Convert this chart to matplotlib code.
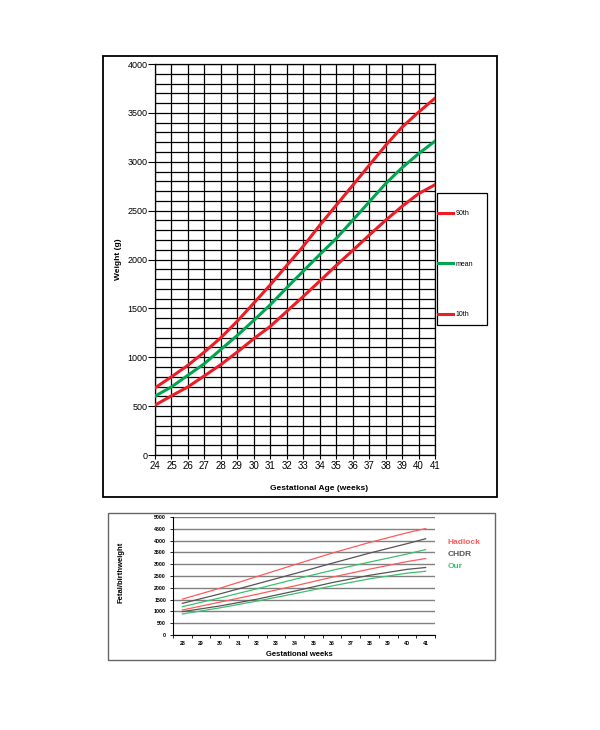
import matplotlib
matplotlib.use("Agg")
import matplotlib.pyplot as plt
from matplotlib.patches import Rectangle
from matplotlib.ticker import MultipleLocator, FixedLocator

plt.rcParams['font.family'] = ['Liberation Sans', 'DejaVu Sans']

# ================= DATA =================
# top chart: weight (g) by gestational age (weeks)
weeks = list(range(24, 42))
p90 = [687, 800, 918, 1054, 1200, 1370, 1554, 1741, 1939, 2135, 2350, 2554,
       2758, 2963, 3167, 3354, 3507, 3650]
mean = [602, 697, 816, 935, 1080, 1224, 1378, 1537, 1711, 1881, 2050, 2214,
        2401, 2588, 2776, 2939, 3082, 3211]
p10 = [510, 605, 697, 810, 925, 1054, 1190, 1316, 1469, 1622, 1779, 1939,
       2092, 2248, 2401, 2544, 2673, 2765]

# bottom chart: fetal/birthweight references
weeks2 = [28, 30, 32, 34, 36, 38, 40, 41]
hadlock_hi = [1520, 1980, 2480, 2980, 3470, 3920, 4330, 4510]
hadlock_lo = [1060, 1390, 1730, 2080, 2450, 2790, 3110, 3240]
chdr_hi = [1340, 1740, 2170, 2600, 3040, 3470, 3870, 4080]
chdr_lo = [990, 1230, 1520, 1860, 2220, 2530, 2780, 2860]
our_hi = [1200, 1570, 1960, 2360, 2740, 3090, 3430, 3620]
our_lo = [890, 1150, 1440, 1750, 2080, 2380, 2620, 2700]

RED = '#ee1c24'
GREEN = '#00a651'

W, H = 600, 730
fig = plt.figure(figsize=(6, 7.3), dpi=100)

def fx(px):
    return px / W

def fy(py):
    return 1 - py / H

# outer frames
fig.patches.append(Rectangle((fx(103), fy(497)), fx(394), 441 / H,
                             transform=fig.transFigure, fill=False,
                             edgecolor='black', linewidth=1.3))
fig.patches.append(Rectangle((fx(108), fy(660)), fx(387), 147 / H,
                             transform=fig.transFigure, fill=False,
                             edgecolor='#666666', linewidth=1.0))

# ================= TOP CHART =================
ax = fig.add_axes([fx(155), fy(455), fx(280), 391 / H])
ax.plot(weeks, p90, color=RED, lw=2.2, label='90th', zorder=3)
ax.plot(weeks, mean, color=GREEN, lw=2.2, label='mean', zorder=3)
ax.plot(weeks, p10, color=RED, lw=2.2, label='10th', zorder=3)
ax.set_xlim(24, 41)
ax.set_ylim(0, 4000)
ax.xaxis.set_major_locator(MultipleLocator(1))
ax.yaxis.set_major_locator(MultipleLocator(500))
ax.yaxis.set_minor_locator(MultipleLocator(100))
ax.grid(which='both', color='black', lw=0.9)
ax.set_axisbelow(True)
for s in ax.spines.values():
    s.set_linewidth(0.9)
ax.tick_params(axis='x', labelsize=7, length=3, width=0.8, pad=1.5)
ax.tick_params(axis='y', labelsize=6.5, length=5, width=0.8, pad=0.5)
ax.tick_params(axis='y', which='minor', length=0)
fig.text(fx(319), fy(488), 'Gestational Age (weeks)', ha='center', va='center',
         fontsize=6, fontweight='bold')
fig.text(fx(118), fy(259), 'Weight (g)', ha='center', va='center',
         rotation=90, fontsize=6, fontweight='bold')

# legend box
fig.patches.append(Rectangle((fx(437), fy(325)), fx(50), 132 / H,
                             transform=fig.transFigure, fill=False,
                             edgecolor='black', linewidth=0.9))
handles, labels = ax.get_legend_handles_labels()
fig.legend(handles, labels, loc='upper left',
           bbox_to_anchor=(fx(438), fy(210)), frameon=False, borderpad=0,
           borderaxespad=0, fontsize=5, handlelength=2.2, handletextpad=0.3,
           labelspacing=6.3)

# ================= BOTTOM CHART =================
ax2 = fig.add_axes([fx(173), fy(635), fx(262), 118 / H])
ax2.plot(weeks2, hadlock_hi, color='#ff5a5a', lw=0.9, label='Hadlock')
ax2.plot(weeks2, chdr_hi, color='#555555', lw=0.9, label='CHDR')
ax2.plot(weeks2, our_hi, color='#3cc070', lw=0.9, label='Our')
ax2.plot(weeks2, hadlock_lo, color='#ff5a5a', lw=0.9)
ax2.plot(weeks2, chdr_lo, color='#555555', lw=0.9)
ax2.plot(weeks2, our_lo, color='#3cc070', lw=0.9)
ax2.set_xlim(27.5, 41.5)
ax2.set_ylim(0, 5000)
ax2.set_xticks(list(range(28, 42)))
ax2.xaxis.set_minor_locator(FixedLocator([w + 0.5 for w in range(27, 42)]))
ax2.yaxis.set_major_locator(MultipleLocator(500))
ax2.grid(axis='y', color='#808080', lw=1.0)
ax2.set_axisbelow(True)
ax2.spines['top'].set_visible(False)
ax2.spines['right'].set_visible(False)
ax2.spines['left'].set_linewidth(0.8)
ax2.spines['bottom'].set_linewidth(0.8)
ax2.tick_params(axis='x', which='major', length=0, labelsize=3.8, pad=4)
ax2.tick_params(axis='x', which='minor', length=2, width=0.6)
ax2.tick_params(axis='y', labelsize=3.8, length=2, width=0.6, pad=3)
for t in ax2.get_xticklabels() + ax2.get_yticklabels():
    t.set_fontweight('bold')
fig.text(fx(299), fy(655), 'Gestational weeks', ha='center', va='center',
         fontsize=5.5, fontweight='bold')
fig.text(fx(121), fy(572), 'Fetal/birthweight', ha='center', va='center',
         rotation=90, fontsize=5.5, fontweight='bold')

leg = ax2.legend(loc='upper left', bbox_to_anchor=(fx(448), fy(538)),
                 bbox_transform=fig.transFigure, frameon=False, borderpad=0,
                 borderaxespad=0, handlelength=0, handletextpad=0,
                 labelspacing=0.5, labelcolor='linecolor',
                 prop={'size': 6, 'weight': 'bold'})
for h in leg.legend_handles:
    h.set_visible(False)

plt.savefig("out.png", dpi=100)
plt.close()
